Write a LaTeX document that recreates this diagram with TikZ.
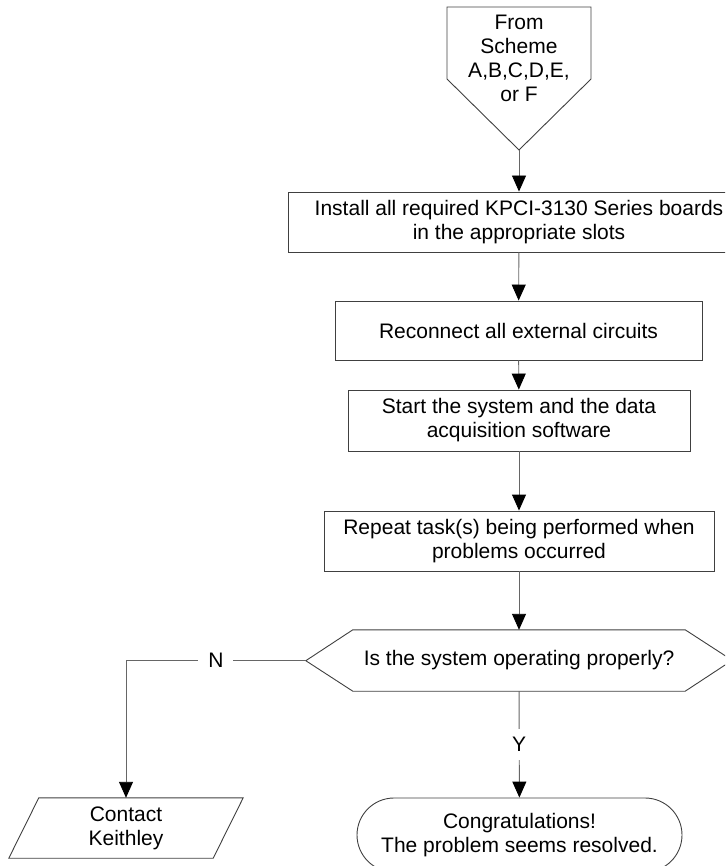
\documentclass[tikz,border=0pt]{standalone}
\usepackage{fontspec}
\setmainfont{Liberation Sans}
\usetikzlibrary{arrows.meta,shapes.misc}
\newcommand\flowfont{\fontsize{21}{24}\selectfont}

\begin{document}
\begin{tikzpicture}[x=1pt,y=-1pt,
		border/.style={draw=black!75, line width=0.9pt},
		stepbox/.style={border, rectangle, align=center, inner sep=0pt, minimum height=60, font=\flowfont},
		flow/.style={draw=black!60, line width=0.9pt, -{Triangle[length=16pt,width=14pt,color=black]}},
		lbl/.style={fill=white, inner xsep=10pt, inner ysep=8pt, font=\flowfont}]
		\useasboundingbox (0,0) rectangle (725,866);
		\clip (0,0) rectangle (725,866);

		% off-page connector
		\draw [border] (447,7) -- (591,7) -- (591,79) -- (519,150) coordinate (srctip) -- (447,79) -- cycle;
		\draw (519,58) node [align=center, font=\flowfont] (src) {From\\Scheme\\A,B,C,D,E,\\or F};

		\draw (519,222) node [stepbox, minimum width=462] (inst) {Install all required KPCI-3130 Series boards\\in the appropriate slots};
		\draw (518.5,330.5) node [stepbox, minimum width=367, minimum height=59] (recon) {Reconnect all external circuits};
		\draw (519,420.5) node [stepbox, minimum width=342, minimum height=61] (start) {Start the system and the data\\acquisition software};
		\draw (519,541) node [stepbox, minimum width=390] (rep) {Repeat task(s) being performed when\\problems occurred};

		% decision
		\draw (519,660.5) node [rectangle, minimum width=332, minimum height=61, inner sep=0pt, font=\flowfont] (dec) {Is the system operating properly?};
		\draw [border] (dec.north west) -- (dec.north east) -- ++(47,30.5) -- (dec.south east) -- (dec.south west) -- ++(-47,-30.5) coordinate (decw) -- cycle;

		\draw (519.5,835) node [border, rounded rectangle, minimum width=325, minimum height=74, inner sep=0pt, align=center, font=\flowfont] (done) {Congratulations!\\The problem seems resolved.};

		% output
		\draw (126,828) node [rectangle, minimum width=204, minimum height=60, inner sep=0pt, align=center, font=\flowfont] (kt) {Contact\\Keithley};
		\draw [border] ([xshift=15pt]kt.north west) -- ([xshift=15pt]kt.north east) -- ([xshift=-15pt]kt.south east) -- ([xshift=-15pt]kt.south west) -- cycle;

		\draw
		(srctip) edge [flow] (inst)
		(inst) edge [flow] (recon)
		(recon) edge [flow] (start)
		(start) edge [flow] (rep)
		(rep) edge [flow] (dec)
		(dec) edge [flow] node [lbl] {Y} (done);
		\draw [flow] (decw) -| node [lbl, pos=0.25] {N} (kt.north);
	\end{tikzpicture}
\end{document}
